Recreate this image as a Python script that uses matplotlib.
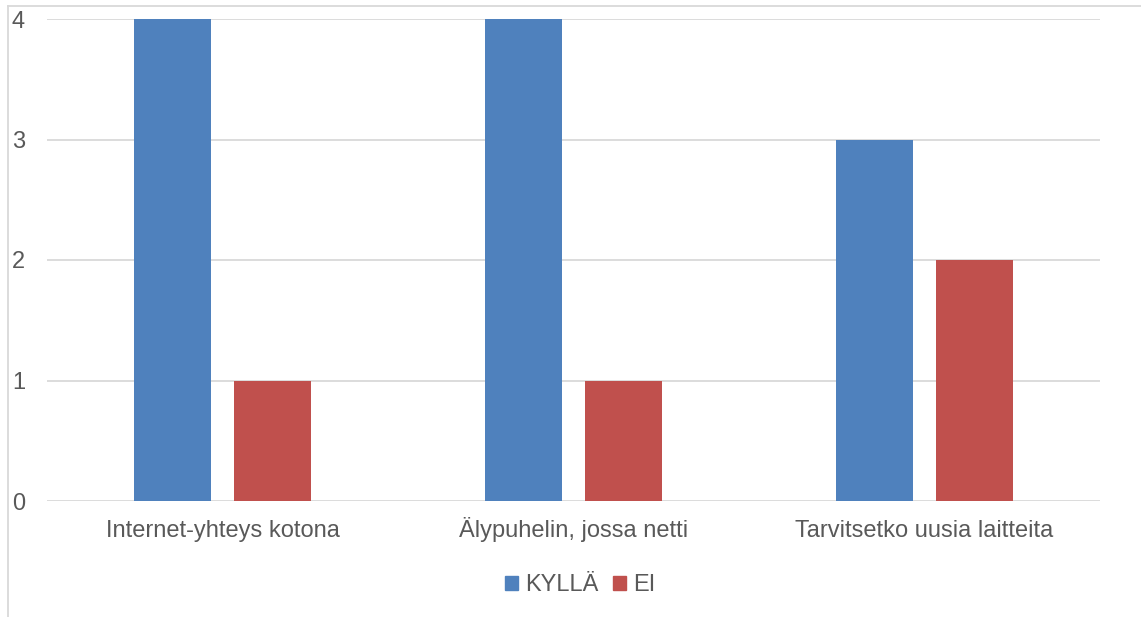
import matplotlib
matplotlib.use("Agg")
import matplotlib.pyplot as plt
import matplotlib.transforms as mtransforms
from matplotlib.lines import Line2D
from matplotlib.patches import Patch
import numpy as np

categories = ["Internet-yhteys kotona", "Älypuhelin, jossa netti", "Tarvitsetko uusia laitteita"]
series_names = ["KYLLÄ", "EI"]
kylla = [4, 4, 3]
ei = [1, 1, 2]
yticks = [0, 1, 2, 3, 4]

colors = ["#4F81BD", "#C0504D"]
text_color = "#595959"
grid_color = "#D9D9D9"

plt.rcParams["font.family"] = ["Liberation Sans", "DejaVu Sans"]

W, H = 1141, 617
fig = plt.figure(figsize=(W / 100, H / 100), dpi=100)

# plot area in pixel coordinates
x0, x1 = 47, 1100
y_top, y_bot = 19, 501
ax = fig.add_axes([x0 / W, 1 - y_bot / H, (x1 - x0) / W, (y_bot - y_top) / H])

x = np.arange(len(categories))
bw = 0.222
off = 0.1425
ax.bar(x - off, kylla, width=bw, color=colors[0], zorder=3, label=series_names[0])
ax.bar(x + off, ei, width=bw, color=colors[1], zorder=3, label=series_names[1])

ax.set_xlim(-0.5, len(categories) - 0.5)
ax.set_ylim(0, 4)
ax.set_yticks(yticks)
ax.set_yticklabels([str(v) for v in yticks])
ax.set_xticks(x)
ax.set_xticklabels(categories)
for s in ax.spines.values():
    s.set_visible(False)
ax.grid(axis="y", color=grid_color, linewidth=1.3, zorder=0)
ax.tick_params(axis="both", length=0, colors=text_color, labelsize=17)

# category labels share one baseline below the axis
xlab_tr = mtransforms.blended_transform_factory(ax.transData, fig.transFigure)
for lbl in ax.get_xticklabels():
    lbl.set_verticalalignment("baseline")
    lbl.set_transform(xlab_tr)
for lbl, xv in zip(ax.get_xticklabels(), x):
    lbl.set_position((xv, 1 - 537 / H))

# y labels sit at the far left of the chart area
for lbl in ax.get_yticklabels():
    lbl.set_horizontalalignment("left")
    lbl.set_transform(mtransforms.blended_transform_factory(fig.transFigure, ax.transData))
    lbl.set_position((12 / W, 0))

handles = [Patch(color=c, label=n) for c, n in zip(colors, series_names)]
fig.legend(handles=handles, loc="center", bbox_to_anchor=(580 / W, 1 - 585 / H),
           ncol=2, frameon=False, fontsize=17, labelcolor=text_color,
           handlelength=0.55, handleheight=0.55, handletextpad=0.3, columnspacing=0.6)

# outer chart frame
fig.add_artist(Line2D([8 / W, 1.0], [1 - 6 / H] * 2, transform=fig.transFigure,
                      color=grid_color, linewidth=1.3))
fig.add_artist(Line2D([8 / W] * 2, [1 - 6 / H, 0], transform=fig.transFigure,
                      color=grid_color, linewidth=1.3))

fig.savefig("out.png", dpi=100, facecolor="white")
